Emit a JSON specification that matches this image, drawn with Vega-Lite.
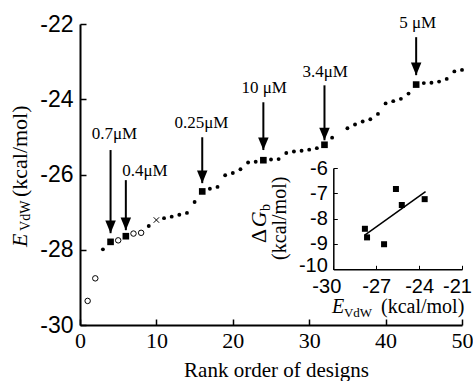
{
  "$schema": "https://vega.github.io/schema/vega-lite/v6.json",
  "width": 382,
  "height": 301,
  "autosize": {"type": "none"},
  "padding": {"left": 80, "top": 24, "right": 11, "bottom": 56},
  "background": "white",
  "config": {
    "view": {"stroke": null},
    "axis": {"grid": false, "domainColor": "black", "tickColor": "black", "labelColor": "black", "titleColor": "black"}
  },
  "datasets": {
    "designs": [
      {"rank": 1, "E": -29.36, "type": "open"},
      {"rank": 2, "E": -28.76, "type": "open"},
      {"rank": 3, "E": -27.99, "type": "dot"},
      {"rank": 4, "E": -27.79, "type": "square"},
      {"rank": 5, "E": -27.75, "type": "open"},
      {"rank": 6, "E": -27.64, "type": "square"},
      {"rank": 7, "E": -27.57, "type": "open"},
      {"rank": 8, "E": -27.55, "type": "open"},
      {"rank": 9, "E": -27.37, "type": "dot"},
      {"rank": 10, "E": -27.21, "type": "cross"},
      {"rank": 11, "E": -27.16, "type": "dot"},
      {"rank": 12, "E": -27.12, "type": "dot"},
      {"rank": 13, "E": -27.07, "type": "dot"},
      {"rank": 14, "E": -27.02, "type": "dot"},
      {"rank": 15, "E": -26.73, "type": "dot"},
      {"rank": 16, "E": -26.45, "type": "square"},
      {"rank": 17, "E": -26.38, "type": "dot"},
      {"rank": 18, "E": -26.33, "type": "dot"},
      {"rank": 19, "E": -26.02, "type": "dot"},
      {"rank": 20, "E": -25.96, "type": "dot"},
      {"rank": 21, "E": -25.86, "type": "dot"},
      {"rank": 22, "E": -25.68, "type": "dot"},
      {"rank": 23, "E": -25.66, "type": "dot"},
      {"rank": 24, "E": -25.62, "type": "square"},
      {"rank": 25, "E": -25.6, "type": "dot"},
      {"rank": 26, "E": -25.59, "type": "dot"},
      {"rank": 27, "E": -25.43, "type": "dot"},
      {"rank": 28, "E": -25.39, "type": "dot"},
      {"rank": 29, "E": -25.37, "type": "dot"},
      {"rank": 30, "E": -25.34, "type": "dot"},
      {"rank": 31, "E": -25.3, "type": "dot"},
      {"rank": 32, "E": -25.21, "type": "square"},
      {"rank": 33, "E": -25.02, "type": "dot"},
      {"rank": 35, "E": -24.77, "type": "dot"},
      {"rank": 36, "E": -24.67, "type": "dot"},
      {"rank": 37, "E": -24.59, "type": "dot"},
      {"rank": 38, "E": -24.53, "type": "dot"},
      {"rank": 39, "E": -24.39, "type": "dot"},
      {"rank": 40, "E": -24.11, "type": "dot"},
      {"rank": 41, "E": -24.05, "type": "dot"},
      {"rank": 42, "E": -23.99, "type": "dot"},
      {"rank": 43, "E": -23.85, "type": "dot"},
      {"rank": 44, "E": -23.61, "type": "square"},
      {"rank": 45, "E": -23.57, "type": "dot"},
      {"rank": 46, "E": -23.56, "type": "dot"},
      {"rank": 47, "E": -23.53, "type": "dot"},
      {"rank": 48, "E": -23.46, "type": "dot"},
      {"rank": 49, "E": -23.26, "type": "dot"},
      {"rank": 50, "E": -23.22, "type": "dot"}
    ],
    "arrows": [
      {"rank": 4, "label": "0.7μM", "ys": -25.35, "yt": -27.56, "lx": 4.5, "ly": -24.93},
      {"rank": 6, "label": "0.4μM", "ys": -26.15, "yt": -27.48, "lx": 8.5, "ly": -25.91},
      {"rank": 16, "label": "0.25μM", "ys": -25.01, "yt": -26.23, "lx": 15.9, "ly": -24.64},
      {"rank": 24, "label": "10 μM", "ys": -24.08, "yt": -25.35, "lx": 24.1, "ly": -23.71},
      {"rank": 32, "label": "3.4μM", "ys": -23.63, "yt": -25.09, "lx": 32.1, "ly": -23.28},
      {"rank": 44, "label": "5 μM", "ys": -22.35, "yt": -23.36, "lx": 44.2, "ly": -21.98}
    ],
    "inset": [
      {"E": -27.79, "G": -8.4},
      {"E": -27.64, "G": -8.74},
      {"E": -26.45, "G": -9.01},
      {"E": -25.62, "G": -6.83},
      {"E": -25.21, "G": -7.46},
      {"E": -23.61, "G": -7.23}
    ],
    "fit": [
      {"E": -27.8, "G": -8.65},
      {"E": -23.55, "G": -6.93}
    ]
  },
  "layer": [
    {
      "layer": [
        {
          "data": {"name": "designs"},
          "transform": [{"filter": "datum.type == 'dot'"}],
          "mark": {"type": "point", "shape": "circle", "filled": true, "color": "black", "size": 15, "opacity": 1},
          "encoding": {
            "x": {"field": "rank", "type": "quantitative", "scale": {"domain": [0, 50], "nice": false, "zero": false},
              "axis": {"values": [0, 10, 20, 30, 40, 50], "title": "Rank order of designs", "domainWidth": 2, "tickSize": -6, "tickWidth": 1.5, "labelPadding": 11,
                "labelFont": "Liberation Serif", "labelFontSize": 22, "titleFont": "Liberation Serif", "titleFontSize": 21, "titleFontWeight": "normal",
                "titleBaseline": "alphabetic", "titleY": 51, "titleX": 196, "labelFlush": false}},
            "y": {"field": "E", "type": "quantitative", "scale": {"domain": [-30, -22], "nice": false, "zero": false},
              "axis": {"values": [-30, -28, -26, -24, -22], "labelExpr": "'' + datum.value", "title": null, "domainWidth": 2, "tickSize": -6, "tickWidth": 1.5, "labelPadding": 13,
                "labelFont": "Liberation Sans", "labelFontSize": 23, "labelFlush": false}}
          }
        },
        {
          "data": {"name": "designs"},
          "transform": [{"filter": "datum.type == 'open'"}],
          "mark": {"type": "point", "shape": "circle", "filled": false, "stroke": "black", "strokeWidth": 1, "size": 30, "opacity": 1},
          "encoding": {
            "x": {"field": "rank", "type": "quantitative", "scale": {"domain": [0, 50]}},
            "y": {"field": "E", "type": "quantitative", "scale": {"domain": [-30, -22]}}
          }
        },
        {
          "data": {"name": "designs"},
          "transform": [{"filter": "datum.type == 'square'"}],
          "mark": {"type": "point", "shape": "square", "filled": true, "color": "black", "size": 44, "opacity": 1},
          "encoding": {
            "x": {"field": "rank", "type": "quantitative", "scale": {"domain": [0, 50]}},
            "y": {"field": "E", "type": "quantitative", "scale": {"domain": [-30, -22]}}
          }
        },
        {
          "data": {"name": "designs"},
          "transform": [{"filter": "datum.type == 'cross'"}],
          "mark": {"type": "point", "shape": "M-1,-1L1,1M-1,1L1,-1", "filled": false, "stroke": "black", "strokeWidth": 1, "size": 30, "opacity": 1},
          "encoding": {
            "x": {"field": "rank", "type": "quantitative", "scale": {"domain": [0, 50]}},
            "y": {"field": "E", "type": "quantitative", "scale": {"domain": [-30, -22]}}
          }
        },
        {
          "data": {"name": "arrows"},
          "mark": {"type": "rule", "color": "black", "strokeWidth": 2},
          "encoding": {
            "x": {"field": "rank", "type": "quantitative", "scale": {"domain": [0, 50]}},
            "y": {"field": "ys", "type": "quantitative", "scale": {"domain": [-30, -22]}},
            "y2": {"field": "yt"}
          }
        },
        {
          "data": {"name": "arrows"},
          "mark": {"type": "point", "shape": "M-1,-2.4L1,-2.4L0,0Z", "filled": true, "color": "black", "size": 110, "opacity": 1},
          "encoding": {
            "x": {"field": "rank", "type": "quantitative", "scale": {"domain": [0, 50]}},
            "y": {"field": "yt", "type": "quantitative", "scale": {"domain": [-30, -22]}}
          }
        },
        {
          "data": {"name": "arrows"},
          "mark": {"type": "text", "font": "Liberation Serif", "fontSize": 17, "color": "black", "align": "center", "baseline": "middle"},
          "encoding": {
            "x": {"field": "lx", "type": "quantitative", "scale": {"domain": [0, 50]}},
            "y": {"field": "ly", "type": "quantitative", "scale": {"domain": [-30, -22]}},
            "text": {"field": "label"}
          }
        },
        {
          "data": {"values": [{"t": "E"}]},
          "mark": {"type": "text", "font": "Liberation Serif", "fontStyle": "italic", "fontSize": 22, "color": "black", "align": "left", "baseline": "alphabetic", "angle": 270},
          "encoding": {
            "x": {"datum": -6.95, "type": "quantitative", "scale": {"domain": [0, 50]}},
            "y": {"datum": -27.93, "type": "quantitative", "scale": {"domain": [-30, -22]}},
            "text": {"field": "t"}
          }
        },
        {
          "data": {"values": [{"t": "VdW"}]},
          "mark": {"type": "text", "font": "Liberation Serif", "fontSize": 14, "color": "black", "align": "left", "baseline": "alphabetic", "angle": 270},
          "encoding": {
            "x": {"datum": -6.5, "type": "quantitative", "scale": {"domain": [0, 50]}},
            "y": {"datum": -27.5, "type": "quantitative", "scale": {"domain": [-30, -22]}},
            "text": {"field": "t"}
          }
        },
        {
          "data": {"values": [{"t": "(kcal/mol)"}]},
          "mark": {"type": "text", "font": "Liberation Serif", "fontSize": 22, "color": "black", "align": "left", "baseline": "alphabetic", "angle": 270},
          "encoding": {
            "x": {"datum": -6.95, "type": "quantitative", "scale": {"domain": [0, 50]}},
            "y": {"datum": -26.6, "type": "quantitative", "scale": {"domain": [-30, -22]}},
            "text": {"field": "t"}
          }
        },
        {
          "data": {"values": [{"t": "E"}]},
          "mark": {"type": "text", "font": "Liberation Serif", "fontStyle": "italic", "fontSize": 20, "color": "black", "align": "left", "baseline": "alphabetic"},
          "encoding": {
            "x": {"datum": 32.98, "type": "quantitative", "scale": {"domain": [0, 50]}},
            "y": {"datum": -29.68, "type": "quantitative", "scale": {"domain": [-30, -22]}},
            "text": {"field": "t"}
          }
        },
        {
          "data": {"values": [{"t": "VdW"}]},
          "mark": {"type": "text", "font": "Liberation Serif", "fontSize": 13, "color": "black", "align": "left", "baseline": "alphabetic"},
          "encoding": {
            "x": {"datum": 34.55, "type": "quantitative", "scale": {"domain": [0, 50]}},
            "y": {"datum": -29.79, "type": "quantitative", "scale": {"domain": [-30, -22]}},
            "text": {"field": "t"}
          }
        },
        {
          "data": {"values": [{"t": "(kcal/mol)"}]},
          "mark": {"type": "text", "font": "Liberation Serif", "fontSize": 20, "color": "black", "align": "left", "baseline": "alphabetic"},
          "encoding": {
            "x": {"datum": 39.4, "type": "quantitative", "scale": {"domain": [0, 50]}},
            "y": {"datum": -29.68, "type": "quantitative", "scale": {"domain": [-30, -22]}},
            "text": {"field": "t"}
          }
        },
        {
          "data": {"values": [{"t": "Δ"}]},
          "mark": {"type": "text", "font": "Liberation Serif", "fontSize": 22, "color": "black", "align": "left", "baseline": "alphabetic", "angle": 270},
          "encoding": {
            "x": {"datum": 24.35, "type": "quantitative", "scale": {"domain": [0, 50]}},
            "y": {"datum": -27.82, "type": "quantitative", "scale": {"domain": [-30, -22]}},
            "text": {"field": "t"}
          }
        },
        {
          "data": {"values": [{"t": "G"}]},
          "mark": {"type": "text", "font": "Liberation Serif", "fontStyle": "italic", "fontSize": 22, "color": "black", "align": "left", "baseline": "alphabetic", "angle": 270},
          "encoding": {
            "x": {"datum": 24.35, "type": "quantitative", "scale": {"domain": [0, 50]}},
            "y": {"datum": -27.4, "type": "quantitative", "scale": {"domain": [-30, -22]}},
            "text": {"field": "t"}
          }
        },
        {
          "data": {"values": [{"t": "b"}]},
          "mark": {"type": "text", "font": "Liberation Serif", "fontSize": 14, "color": "black", "align": "left", "baseline": "alphabetic", "angle": 270},
          "encoding": {
            "x": {"datum": 24.85, "type": "quantitative", "scale": {"domain": [0, 50]}},
            "y": {"datum": -26.97, "type": "quantitative", "scale": {"domain": [-30, -22]}},
            "text": {"field": "t"}
          }
        },
        {
          "data": {"values": [{"t": "(kcal/mol)"}]},
          "mark": {"type": "text", "font": "Liberation Serif", "fontSize": 20, "color": "black", "align": "left", "baseline": "alphabetic", "angle": 270},
          "encoding": {
            "x": {"datum": 26.96, "type": "quantitative", "scale": {"domain": [0, 50]}},
            "y": {"datum": -28.27, "type": "quantitative", "scale": {"domain": [-30, -22]}},
            "text": {"field": "t"}
          }
        }
      ]
    },
    {
      "layer": [
        {
          "data": {"name": "fit"},
          "mark": {"type": "line", "color": "black", "strokeWidth": 1.5},
          "encoding": {
            "x": {"field": "E", "type": "quantitative", "scale": {"domain": [-30, -21], "range": [253.3, 382], "nice": false, "zero": false},
              "axis": {"orient": "bottom", "offset": -55.7, "values": [-30, -27, -24, -21], "labelExpr": "'' + datum.value", "title": null, "domainWidth": 1.5, "tickSize": -4, "tickWidth": 1, "labelPadding": 11,
                "labelOffset": {"condition": [{"test": "datum.value == -30", "value": -7}, {"test": "datum.value == -21", "value": -5}], "value": 0},
                "labelFont": "Liberation Sans", "labelFontSize": 20, "labelFlush": false}},
            "y": {"field": "G", "type": "quantitative", "scale": {"domain": [-10, -6], "range": [245.3, 144], "nice": false, "zero": false},
              "axis": {"orient": "left", "offset": -253.3, "values": [-10, -9, -8, -7, -6], "labelExpr": "'' + datum.value", "title": null, "domainWidth": 1.5, "tickSize": -4, "tickWidth": 1, "labelPadding": 10,
                "labelOffset": {"condition": {"test": "datum.value == -10", "value": -4}, "value": 0},
                "labelFont": "Liberation Sans", "labelFontSize": 20, "labelFlush": false}}
          }
        },
        {
          "data": {"name": "inset"},
          "mark": {"type": "point", "shape": "square", "filled": true, "color": "black", "size": 36, "opacity": 1},
          "encoding": {
            "x": {"field": "E", "type": "quantitative", "scale": {"domain": [-30, -21], "range": [253.3, 382]}},
            "y": {"field": "G", "type": "quantitative", "scale": {"domain": [-10, -6], "range": [245.3, 144]}}
          }
        }
      ]
    }
  ],
  "resolve": {"scale": {"x": "independent", "y": "independent"}}
}
